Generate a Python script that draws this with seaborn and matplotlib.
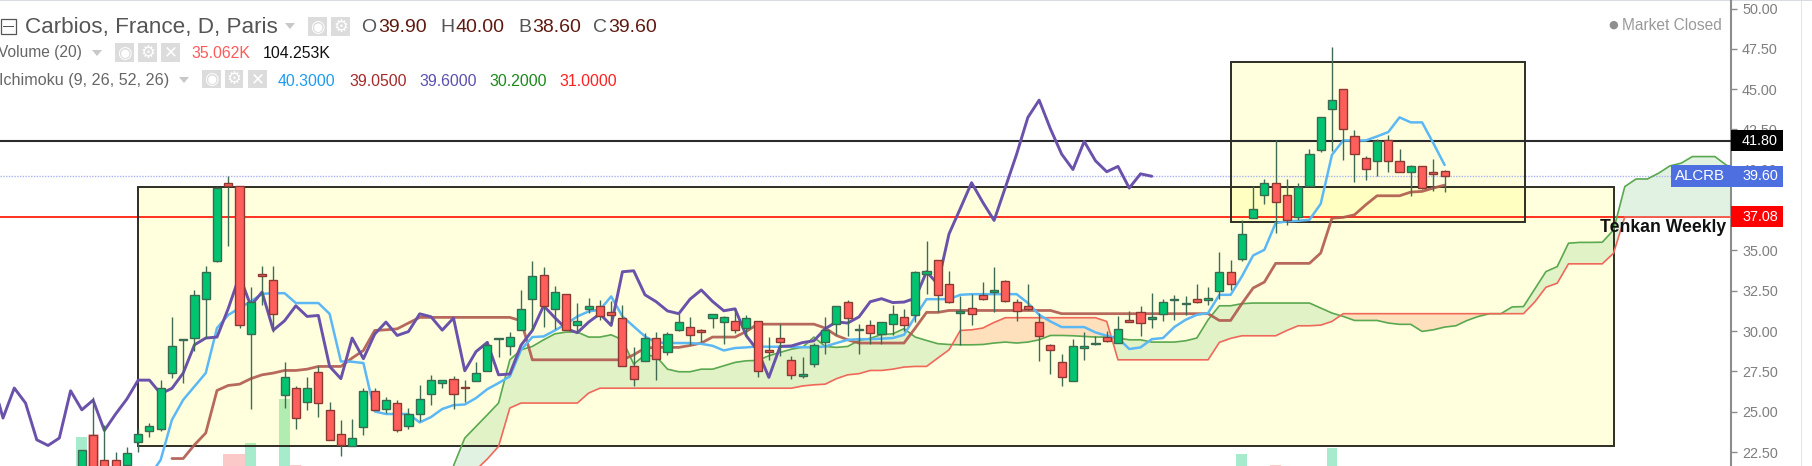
import numpy as np
import matplotlib
matplotlib.use("Agg")
import matplotlib.pyplot as plt
from matplotlib.patches import Rectangle, Polygon
import seaborn as sns

W, H = 1812, 466

opens = [21.0,23.53,22.0,22.0,21.7,23.1,23.78,23.93,27.38,29.43,29.57,31.98,34.32,39.17,38.97,29.81,33.52,33.18,26.01,26.47,
25.6,27.46,25.12,23.62,22.89,24.03,26.3,25.19,25.54,24.11,24.86,26.12,26.78,27.05,26.55,26.88,27.54,29.52,29.05,30.04,
31.98,33.49,31.4,32.33,30.39,31.38,31.57,31.18,30.81,27.81,28.14,29.57,28.72,30.06,30.23,30.07,30.83,30.58,30.64,30.17,
30.64,28.83,29.57,28.22,27.24,27.95,29.32,30.41,31.82,30.05,30.39,29.83,30.41,30.87,30.97,33.51,34.42,32.91,31.15,31.41,
32.25,32.45,33.1,31.82,31.57,30.56,29.13,28.06,26.88,28.98,29.19,29.65,29.24,30.67,31.16,30.78,31.08,31.91,31.67,32.0,
31.94,32.48,33.68,34.49,37.0,38.45,39.2,38.45,37.05,38.97,41.2,43.8,45.0,42.07,40.73,40.56,41.82,40.56,39.88,40.21,39.85,39.9]
highs = [22.6,25.89,24.2,22.48,22.8,23.93,24.3,26.98,30.85,29.5,32.52,34.05,38.95,39.63,38.97,32.71,34.05,34.05,28.1,26.57,
27.15,27.81,25.58,24.5,24.57,26.47,26.47,25.91,25.74,25.23,26.67,27.25,26.98,27.19,26.98,28.1,29.36,29.6,29.94,32.52,
34.32,33.97,32.81,32.33,31.74,32.05,31.94,31.84,31.59,29.0,29.88,29.94,29.94,31.05,30.85,30.1,31.07,30.95,31.43,31.01,
30.64,29.61,30.43,28.43,28.37,29.25,30.85,31.57,31.94,30.45,30.7,30.56,31.63,31.36,33.72,35.56,34.42,33.7,32.19,32.32,
33.04,33.95,33.15,32.0,32.94,31.12,29.2,28.58,29.5,29.92,29.71,30.0,30.95,31.26,31.53,32.36,32.0,32.21,32.19,32.94,
32.71,34.9,34.38,36.9,38.97,39.42,41.82,39.42,39.18,41.28,43.25,47.59,45.0,42.44,40.87,41.9,42.17,41.28,40.28,40.21,40.66,40.0]
lows = [20.8,20.5,20.5,20.5,21.2,22.48,23.41,23.82,27.09,26.78,28.78,29.57,34.3,35.29,30.19,25.17,31.63,29.94,25.23,23.93,
25.08,24.67,23.26,22.23,22.89,23.57,25.12,24.92,23.74,23.93,24.4,25.43,26.5,25.17,25.58,26.88,27.54,28.37,28.49,30.04,
30.08,30.25,30.12,30.06,29.88,31.12,30.7,30.5,27.81,26.57,28.14,26.94,28.53,30.0,29.11,29.3,30.19,29.21,29.88,29.67,
27.15,28.22,28.43,27.02,27.09,27.75,28.6,29.77,29.71,28.6,29.19,29.19,29.77,29.98,30.56,32.32,31.16,31.74,29.15,30.39,
31.9,31.16,31.8,30.64,31.3,28.12,27.36,26.6,26.88,28.22,29.15,29.35,29.24,30.55,29.71,30.19,30.6,30.7,31.01,31.75,
31.63,31.99,32.52,34.32,37.0,37.9,36.08,36.59,36.9,38.97,41.08,41.14,40.58,39.26,39.34,39.59,39.84,39.84,38.35,38.82,38.66,38.6]
closes = [22.6,21.0,21.0,21.0,22.44,23.62,24.11,26.45,29.07,29.48,32.25,33.68,38.9,39.0,30.39,31.82,33.42,31.05,27.15,24.61,
26.47,25.54,23.26,22.91,23.37,26.3,25.12,25.72,23.84,24.86,25.79,26.96,26.96,26.12,26.45,27.4,29.15,29.57,29.63,31.4,
33.43,31.57,32.42,30.06,30.64,31.57,30.91,30.97,27.81,27.05,29.57,28.29,29.81,30.56,29.73,29.97,31.07,30.89,30.06,30.81,
27.54,28.73,29.3,27.29,27.34,29.13,30.04,31.57,30.83,30.15,29.9,30.56,31.07,30.35,33.68,33.74,32.25,31.82,31.25,31.08,
31.98,32.55,31.84,31.26,31.38,29.71,28.8,27.13,29.05,29.08,29.29,29.4,30.15,30.57,30.5,30.88,31.82,32.01,31.77,31.8,
32.04,33.68,32.92,36.03,37.6,39.2,37.98,36.86,38.91,40.97,43.25,44.32,42.54,40.97,40.02,41.76,40.56,39.88,40.21,38.87,39.75,39.6]

tenkan_start = 6
tenkan = [21.0,22.02,24.5,25.74,26.57,27.4,30.19,31.0,31.43,31.84,32.31,32.35,32.35,31.74,31.74,31.74,31.07,28.12,28.1,28.02,
25.02,24.86,24.86,24.86,24.34,24.67,25.17,25.41,25.45,25.85,26.4,26.78,27.19,28.84,29.63,29.67,30.04,30.45,30.91,31.22,31.32,
32.15,30.91,30.29,29.67,29.3,29.26,29.26,29.26,29.21,29.09,28.8,28.95,28.99,29.05,29.03,29.03,29.03,29.0,28.99,29.05,
29.26,29.46,29.5,29.5,29.53,29.57,29.77,30.91,31.98,31.98,31.98,32.25,32.29,32.29,32.29,32.29,32.29,31.74,31.01,30.6,30.25,
30.25,30.25,29.92,29.71,29.57,28.89,28.99,29.5,29.57,30.25,30.7,31.01,31.12,32.25,32.25,33.39,34.69,35.04,36.7,36.8,36.84,36.9,
37.89,40.93,41.82,41.82,41.82,42.07,42.34,43.25,42.94,42.94,41.65,40.3]

kijun_start = 8
kijun = [22.1,22.1,22.95,23.68,26.32,26.63,26.71,27.05,27.29,27.4,27.56,27.56,27.64,27.81,27.81,27.81,28.33,28.8,30.04,30.08,30.14,30.5,
30.85,30.85,30.85,30.85,30.85,30.85,30.85,30.85,30.85,30.64,28.22,28.22,28.22,28.22,28.22,28.22,28.22,28.22,28.22,28.53,28.95,28.99,28.99,28.99,
29.11,29.26,29.63,29.63,29.63,29.98,30.43,30.43,30.43,30.43,30.43,30.43,30.19,29.73,29.46,29.26,29.26,29.26,29.26,29.26,30.19,31.16,31.16,31.28,
31.28,31.28,31.28,31.28,31.28,31.28,31.28,31.28,31.28,31.08,31.08,31.08,31.08,31.08,31.08,31.08,31.08,31.08,31.08,31.08,31.08,31.08,31.08,
30.66,30.66,31.7,32.67,33.04,34.2,34.2,34.2,34.2,34.84,37.0,37.05,37.21,37.83,38.39,38.39,38.39,38.62,38.66,38.87,39.05]

senkou_start = 33
senkou_a = [21.65,23.37,24.09,24.81,25.54,28.22,28.84,29.05,29.46,29.83,29.94,29.94,29.63,29.63,29.77,29.46,27.95,28.53,28.43,27.64,27.48,27.48,
27.64,27.64,27.85,28.06,28.16,28.18,28.47,28.68,28.88,29.0,29.63,29.05,28.99,29.05,29.42,29.55,29.79,29.83,30.15,29.63,29.42,29.22,29.17,29.15,
29.15,29.17,29.26,29.32,29.26,29.32,29.46,29.73,29.73,29.71,29.67,29.63,29.63,29.57,29.46,29.46,29.32,29.32,29.32,29.4,29.57,30.7,31.57,31.57,31.7,
31.74,31.74,31.74,31.74,31.74,31.74,31.43,31.12,30.91,30.66,30.66,30.66,30.5,30.42,30.42,29.98,30.08,30.25,30.33,30.66,30.91,31.08,31.08,31.5,31.52,
32.6,33.69,34.0,35.45,35.5,35.5,35.51,36.27,38.96,39.43,39.43,39.79,40.24,40.41,40.82,40.82,40.82,40.3,40.0]
senkou_b = [20.5,21.0,21.4,22.07,22.85,25.23,25.54,25.54,25.54,25.54,25.54,25.54,26.16,26.46,26.46,26.46,26.46,26.46,26.46,26.46,26.46,26.46,26.46,
26.46,26.46,26.46,26.46,26.46,26.46,26.46,26.46,26.6,26.67,26.71,27.05,27.29,27.36,27.56,27.56,27.64,27.77,27.81,27.81,28.33,28.84,30.04,30.08,30.19,30.54,
30.83,30.83,30.83,30.83,30.83,30.83,30.83,30.83,30.83,30.6,28.22,28.22,28.22,28.22,28.22,28.22,28.22,28.22,28.22,29.3,29.55,29.71,29.71,29.71,29.71,30.04,30.33,
30.33,30.37,30.6,31.08,31.08,31.08,31.08,31.08,31.08,31.08,31.08,31.08,31.08,31.08,31.08,31.08,31.08,31.08,31.08,31.08,31.8,32.72,32.97,34.17,34.17,34.17,34.17,
34.83,37.08,37.08,37.08,37.08,37.08,37.08,37.08,37.08,37.08,37.08,37.08]

chikou_shift = 26
chikou_from = 18

volume_bars = [0,1,13,14,15,18,19,103,106,111]
volume_k = [593,617,417,417,527,970,310,420,310,480]
volume_up = [True,False,False,False,True,True,False,True,False,True]

price_ticks = [22.5,25.0,27.5,30.0,32.5,35.0,37.5,40.0,42.5,45.0,47.5,50.0]
level_black = 41.80
level_last = 39.60
level_red = 37.08
box_large = (5.0, 136.0, 22.88, 38.95)
box_small = (102.0, 128.1, 36.76, 46.66)

sns.set_theme(style="white")
plt.rcParams['font.family'] = ['Liberation Sans', 'DejaVu Sans']

fig = plt.figure(figsize=(W/100, H/100), dpi=100, facecolor='white')
ax = fig.add_axes([0, 0, 1731/W, 1])
vol_ax = ax.twinx()
ax.set_zorder(vol_ax.get_zorder() + 1)
ax.patch.set_visible(False)

# volume pane
for i, v, up_bar in zip(volume_bars, volume_k, volume_up):
    vol_ax.bar(i, v, width=0.97, color='#a6ebcb' if up_bar else '#fcc9c9', linewidth=0)
vol_ax.set_ylim(300, 300 + 466*10)
vol_ax.axis('off')

# boxes
for (x0, x1, y0, y1) in (box_large, box_small):
    ax.add_patch(Rectangle((x0, y0), x1-x0, y1-y0, facecolor='#ffff00', alpha=0.13, linewidth=0, zorder=1))
    ax.add_patch(Rectangle((x0, y0), x1-x0, y1-y0, fill=False, edgecolor='#2e2e24', linewidth=1.4, zorder=4))

# cloud
sx = np.arange(senkou_start, senkou_start + len(senkou_a))
sa, sb = np.array(senkou_a), np.array(senkou_b)
ax.fill_between(sx, sa, sb, where=sa >= sb, interpolate=True, color='#4caf50', alpha=0.16, linewidth=0, zorder=2)
ax.fill_between(sx, sa, sb, where=sa <= sb, interpolate=True, color='#ff5722', alpha=0.18, linewidth=0, zorder=2)

# horizontal levels
ax.axhline(level_black, color='#2b2b2b', lw=1.5, zorder=3)
ax.axhline(level_red, color='#ff3020', lw=1.4, zorder=3)
ax.axhline(level_last, color='#aab4f0', lw=1.0, ls=(0, (1, 1)), zorder=3)

# ichimoku lines
def draw(xs, ys, color, lw, z, alpha=1.0):
    sns.lineplot(x=xs, y=ys, ax=ax, color=color, lw=lw, estimator=None, sort=False,
                 legend=False, zorder=z, alpha=alpha)

draw(sx, senkou_a, '#5aa84f', 1.2, 5)
draw(sx, senkou_b, '#f0685a', 1.2, 5)
draw(np.arange(kijun_start, kijun_start+len(kijun)), kijun, '#b0594e', 2.0, 5, 0.9)
draw(np.arange(tenkan_start, tenkan_start+len(tenkan)), tenkan, '#5cb8f5', 1.8, 6)
cx = np.arange(len(closes))
draw(cx[chikou_from:] - chikou_shift, closes[chikou_from:], '#6a52ab', 2.1, 7)

# candles
o, h, l, c = map(np.array, (opens, highs, lows, closes))
up = c >= o
ax.vlines(cx, l, h, color='#3f6b55', lw=1.0, zorder=8)
ax.bar(cx[up], (c-o)[up], bottom=o[up], width=0.72, color='#00c46f', edgecolor='#3a6b52', linewidth=1.0, zorder=9)
ax.bar(cx[~up], (o-c)[~up], bottom=c[~up], width=0.72, color='#ff5f5a', edgecolor='#8a3a33', linewidth=1.0, zorder=9)

ax.set_xlim(-7.267, 146.43)
ax.set_ylim(21.637, 50.527)
ax.yaxis.tick_right()
ax.set_yticks(price_ticks)
ax.set_yticklabels([f'{t:.2f}' for t in price_ticks])
ax.tick_params(axis='y', which='major', length=4, width=1, color='#8c8c8c', labelcolor='#7f7f7f', labelsize=10.4, pad=4, right=True)
ax.set_xticks([])
ax.set_xlabel(''); ax.set_ylabel('')
for s in ('left', 'top', 'bottom'):
    ax.spines[s].set_visible(False)
ax.spines['right'].set_color('#8c8c8c')
ax.spines['right'].set_linewidth(1.5)

# price labels on the axis
trf = ax.get_yaxis_transform()
def tag(price, color, tc='white'):
    ax.add_patch(Rectangle((1.0, price-0.65), 52/1731, 1.3, transform=trf, facecolor=color, linewidth=0, clip_on=False, zorder=20))
    ax.text(1.0+29/1731, price, f'{price:.2f}', transform=trf, color=tc, fontsize=10.4, ha='center', va='center', zorder=21, clip_on=False)
tag(level_black, '#000000')
tag(level_last, '#4e6fe0')
tag(level_red, '#ff0000')
ax.add_patch(Rectangle((1671/1731, level_last-0.68), 60/1731, 1.36, transform=trf, facecolor='#4e6fe0', linewidth=0, zorder=20))
ax.text(1725/1731, level_last, 'ALCRB', transform=trf, color='white', fontsize=10.8, ha='right', va='center', zorder=21)
ax.text(134.8, 36.45, 'Tenkan Weekly', color='#111111', fontsize=12.7, fontweight='bold', ha='left', va='center', zorder=22)

# page helpers in pixel coordinates
def ftext(x, y, s, color, size, **kw):
    fig.text(x/W, 1-y/H, s, color=color, fontsize=size, va='center', ha=kw.pop('ha', 'left'), **kw)
def frect(x0, y0, x1, y1, **kw):
    fig.add_artist(Rectangle((x0/W, 1-y1/H), (x1-x0)/W, (y1-y0)/H, transform=fig.transFigure, **kw))
def tri(x0, x1, y):
    fig.add_artist(Polygon([(x0/W, 1-(y-3)/H), (x1/W, 1-(y-3)/H), ((x0+x1)/2/W, 1-(y+3)/H)],
                           transform=fig.transFigure, facecolor='#c8c8c8', edgecolor='none'))
def icon(x0, x1, y0, y1, glyph):
    frect(x0, y0, x1, y1, facecolor='#dcdcdc', edgecolor='none')
    ftext((x0+x1)/2, (y0+y1)/2, glyph, 'white', 12, ha='center', family='DejaVu Sans')

frect(1812-11, 0, 1812-10, 466, facecolor='#e2e4e8', edgecolor='none')
frect(0, 0, 1812, 1.2, facecolor='#d8dce0', edgecolor='none')

# header
frect(0.5, 19, 16, 34, facecolor='white', edgecolor='#555555', linewidth=0.9)
frect(3, 26, 13.5, 27, facecolor='#555555', edgecolor='none')
ftext(25, 27, 'Carbios, France, D, Paris', '#555555', 16.2)
tri(285, 295, 26)
icon(308, 327, 17, 36, '◉'); icon(331, 350, 17, 36, '⚙')
dark = '#5e1a10'
for lx, letter, vx, val in [(361, 'O', 378, '39.90'), (440, 'H', 455, '40.00'), (518, 'B', 532, '38.60'), (593, 'C', 608, '39.60')]:
    ftext(lx, 27, letter, '#555555', 14)
    ftext(vx, 27, val, dark, 14)

ftext(-2, 53, 'Volume (20)', '#666666', 11.2)
tri(92, 102, 53)
icon(115, 134, 43, 62, '◉'); icon(138, 157, 43, 62, '⚙'); icon(161, 180, 43, 62, '✕')
ftext(191, 54, '35.062K', '#ff5a5a', 11.4)
ftext(263, 54, '104.253K', '#111111', 11.4)

ftext(-1, 80, 'Ichimoku (9, 26, 52, 26)', '#666666', 11.6)
tri(179, 189, 80)
icon(202, 221, 70, 88, '◉'); icon(225, 243, 70, 88, '⚙'); icon(248, 267, 70, 88, '✕')
for x, val, col in [(278, '40.3000', '#1e9bf0'), (349, '39.0500', '#a52a2a'), (419, '39.6000', '#5b4fb0'),
                    (489, '30.2000', '#1a8a1a'), (559, '31.0000', '#ff2020')]:
    ftext(x, 81, val, col, 11.4)

ftext(1613, 25, '●', '#8f8f8f', 8, ha='center', family='DejaVu Sans')
ftext(1622, 26, 'Market Closed', '#9a9a9a', 11.2)

fig.savefig('out.png', dpi=100, facecolor='white')
